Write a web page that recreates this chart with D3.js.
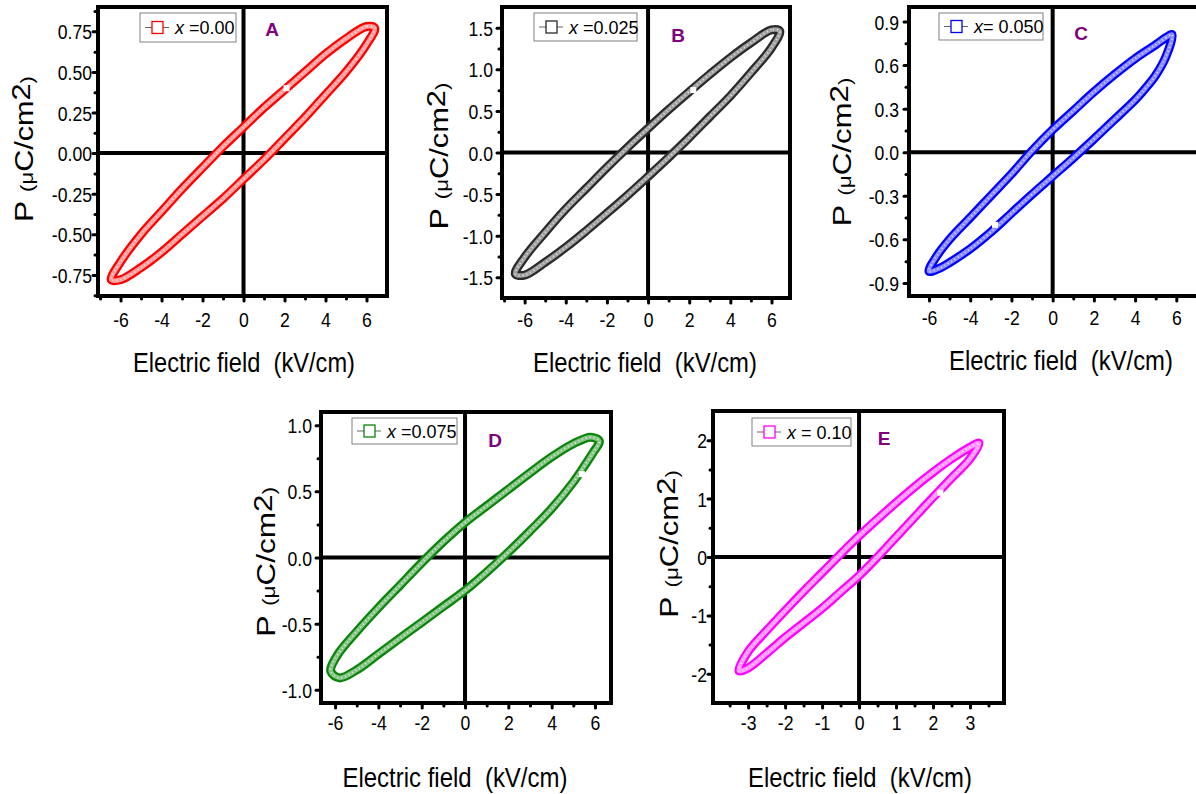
<!DOCTYPE html>
<html><head><meta charset="utf-8">
<script src="https://cdn.jsdelivr.net/npm/d3@7"></script>
<style>body{margin:0;background:#fff} svg{display:block;font-family:"Liberation Sans",Arial,sans-serif}</style>
</head><body>
<svg id="chart" width="1196" height="794"></svg>
<script>
// ---------------- DATA ----------------
// Upper branch: from +Emax tip to -Emax tip ; lower branch: from -Emax tip to +Emax tip
const E_A_up = [6.4, 6, 5, 4, 3, 2, 1, 0, -1, -2, -3, -4, -5, -6, -6.45];
const P_A_up = [0.77, 0.78, 0.705, 0.61, 0.50, 0.39, 0.28, 0.16, 0.04, -0.09, -0.22, -0.36, -0.50, -0.67, -0.78];
const E_A_lo = [-6.45, -6, -5, -4, -3, -2, -1, 0, 1, 2, 3, 4, 5, 6, 6.4];
const P_A_lo = [-0.78, -0.78, -0.705, -0.61, -0.50, -0.39, -0.28, -0.16, -0.04, 0.09, 0.22, 0.36, 0.50, 0.67, 0.77];

const E_B_up = [6.4, 6, 5, 4, 3, 2, 1, 0, -1, -2, -3, -4, -5, -6, -6.45];
const P_B_up = [1.46, 1.475, 1.32, 1.14, 0.94, 0.73, 0.515, 0.29, 0.06, -0.18, -0.43, -0.68, -0.96, -1.26, -1.46];
const E_B_lo = [-6.45, -6, -5, -4, -3, -2, -1, 0, 1, 2, 3, 4, 5, 6, 6.4];
const P_B_lo = [-1.46, -1.475, -1.32, -1.14, -0.94, -0.73, -0.515, -0.29, -0.06, 0.18, 0.43, 0.68, 0.96, 1.26, 1.46];

const E_C_up = [5.8, 5.5, 5, 4, 3, 2, 1, 0, -1, -2, -3, -4, -5, -5.6, -6];
const P_C_up = [0.81, 0.79, 0.74, 0.645, 0.535, 0.415, 0.285, 0.155, 0.01, -0.15, -0.30, -0.45, -0.60, -0.71, -0.82];
const E_C_lo = [-6, -5.5, -5, -4, -3, -2, -1, 0, 1, 2, 3, 4, 4.5, 5, 5.5, 5.8];
const P_C_lo = [-0.82, -0.80, -0.76, -0.665, -0.55, -0.42, -0.29, -0.165, -0.04, 0.09, 0.225, 0.36, 0.44, 0.53, 0.66, 0.81];

const E_D_up = [6.2, 5.8, 5, 4, 3, 2, 1, 0, -1, -2, -3, -4, -5, -5.9, -6.2];
const P_D_up = [0.88, 0.91, 0.86, 0.76, 0.64, 0.515, 0.39, 0.265, 0.12, -0.04, -0.21, -0.38, -0.56, -0.74, -0.86];
const E_D_lo = [-6.2, -5.8, -5, -4, -3, -2, -1, 0, 1, 2, 3, 4, 5, 5.5, 5.9, 6.2];
const P_D_lo = [-0.86, -0.91, -0.85, -0.73, -0.61, -0.49, -0.37, -0.25, -0.11, 0.04, 0.20, 0.37, 0.57, 0.69, 0.79, 0.88];

const E_E_up = [3.25, 3, 2.5, 2, 1.5, 1, 0.5, 0, -0.5, -1, -1.5, -2, -2.5, -3, -3.25];
const P_E_up = [1.95, 1.88, 1.68, 1.45, 1.20, 0.93, 0.65, 0.36, 0.05, -0.27, -0.59, -0.92, -1.26, -1.62, -1.95];
const E_E_lo = [-3.25, -3, -2.5, -2, -1.5, -1, -0.5, 0, 0.5, 1, 1.5, 2, 2.5, 3, 3.25];
const P_E_lo = [-1.95, -1.90, -1.65, -1.38, -1.13, -0.88, -0.60, -0.32, 0.0, 0.34, 0.68, 1.02, 1.35, 1.68, 1.95];

// highlighted (white) single points
const E_mark = [2.1, 2.2, -2.8, 5.4, 2.2];
const P_mark = [0.40, 0.75, -0.50, 0.63, 1.10];

const panelIds = ["A", "B", "C", "D", "E"];
const legendValues = [" =0.00", " =0.025", "= 0.050", " =0.075", " = 0.10"];

const xTicks6 = [-6, -4, -2, 0, 2, 4, 6];
const xTicks3 = [-3, -2, -1, 0, 1, 2, 3];
const yTicksA = [-0.75, -0.5, -0.25, 0, 0.25, 0.5, 0.75];
const yTicksB = [-1.5, -1, -0.5, 0, 0.5, 1, 1.5];
const yTicksC = [-0.9, -0.6, -0.3, 0, 0.3, 0.6, 0.9];
const yTicksD = [-1, -0.5, 0, 0.5, 1];
const yTicksE = [-2, -1, 0, 1, 2];

const xTitle = "Electric field  (kV/cm)";

// ---------------- LAYOUT / STYLE ----------------
const layout = [
  {E_up:E_A_up,P_up:P_A_up,E_lo:E_A_lo,P_lo:P_A_lo, col:"#ff0000", light:"#ff9c9c",
   x0:98,x1:387,y0:7,y1:296, xDom:[-7.1,7.0], yDom:[-0.88,0.9], xT:xTicks6, yT:yTicksA, fy:".2f",
   leg:[140,13,96,29], lab:[272,36], xt:[244,372,222], yt:[33,149,146], xpad:11.5, ygap:6},
  {E_up:E_B_up,P_up:P_B_up,E_lo:E_B_lo,P_lo:P_B_lo, col:"#2a2a2a", light:"#a0a0a0",
   x0:502,x1:790,y0:7,y1:298, xDom:[-7.1,6.9], yDom:[-1.75,1.75], xT:xTicks6, yT:yTicksB, fy:".1f",
   leg:[534,13,103,28], lab:[678,42], xt:[645,372,224], yt:[448,156,147], xpad:9.5, ygap:9},
  {E_up:E_C_up,P_up:P_C_up,E_lo:E_C_lo,P_lo:P_C_lo, col:"#0000ff", light:"#8a8aff",
   x0:909,x1:1199,y0:7,y1:296, xDom:[-6.97,7.1], yDom:[-0.99,1.0], xT:xTicks6, yT:yTicksC, fy:".1f",
   leg:[939,13,104,27], lab:[1081,40], xt:[1061,370,224], yt:[851,152,149], xpad:9.5, ygap:10},
  {E_up:E_D_up,P_up:P_D_up,E_lo:E_D_lo,P_lo:P_D_lo, col:"#0a840a", light:"#86c486",
   x0:321,x1:611,y0:412,y1:703, xDom:[-6.65,6.74], yDom:[-1.1,1.1], xT:xTicks6, yT:yTicksD, fy:".1f",
   leg:[352,418,105,26], lab:[495,447], xt:[455,787,225], yt:[275,562,150], xpad:7.5, ygap:9},
  {E_up:E_E_up,P_up:P_E_up,E_lo:E_E_lo,P_lo:P_E_lo, col:"#ff00ff", light:"#ff96ff",
   x0:713,x1:1004,y0:411,y1:703, xDom:[-3.95,3.92], yDom:[-2.5,2.5], xT:xTicks3, yT:yTicksE, fy:"d",
   leg:[752,418,99,28], lab:[884,445], xt:[860,787,224], yt:[678,544,148], xpad:7.5, ygap:6}
];

const svg = d3.select("#chart");
const SX = 0.84, TF = 21;

layout.forEach((L, i) => {
  const g = svg.append("g");
  const x = d3.scaleLinear().domain(L.xDom).range([L.x0, L.x1]);
  const y = d3.scaleLinear().domain(L.yDom).range([L.y1, L.y0]);

  const xStep = L.xT[1] - L.xT[0], yStep = L.yT[1] - L.yT[0];
  const xMinor = d3.range(-20, 21).map(k => L.xT[0] + (k + 0.5) * xStep).filter(v => v > L.xDom[0] && v < L.xDom[1]);
  const yMinor = d3.range(-20, 21).map(k => L.yT[0] + (k + 0.5) * yStep).filter(v => v > L.yDom[0] && v < L.yDom[1]);

  const styleTicks = sel => {
    sel.select(".domain").remove();
    sel.selectAll("line").attr("stroke", "#000").attr("stroke-width", 3).attr("stroke-linecap", "round");
  };
  g.append("g").attr("transform", `translate(0,${L.y1})`)
    .call(d3.axisBottom(x).tickValues(xMinor).tickSize(3).tickFormat(""))
    .call(styleTicks);
  g.append("g").attr("transform", `translate(${L.x0},0)`)
    .call(d3.axisLeft(y).tickValues(yMinor).tickSize(3).tickFormat(""))
    .call(styleTicks);
  const fmtY = d3.format(L.fy);
  const xa = g.append("g").attr("transform", `translate(0,${L.y1})`)
    .call(d3.axisBottom(x).tickValues(L.xT).tickSize(5).tickPadding(L.xpad).tickFormat(d3.format("d")))
    .call(styleTicks);
  xa.selectAll("text").attr("font-size", TF).attr("fill", "#000")
    .attr("font-family", "Liberation Sans, Arial, sans-serif")
    .text(d => d < 0 ? "-" + Math.abs(d) : d)
    .attr("transform", `scale(${SX},1)`);
  const ya = g.append("g").attr("transform", `translate(${L.x0},0)`)
    .call(d3.axisLeft(y).tickValues(L.yT).tickSize(5).tickFormat(d => fmtY(d).replace("−", "-")))
    .call(styleTicks);
  ya.selectAll("text").attr("font-size", TF).attr("fill", "#000")
    .attr("font-family", "Liberation Sans, Arial, sans-serif")
    .attr("x", -L.ygap / SX).attr("dy", "0.36em")
    .attr("transform", `scale(${SX},1)`);

  // zero lines
  g.append("line").attr("x1", L.x0).attr("x2", L.x1).attr("y1", y(0)).attr("y2", y(0))
    .attr("stroke", "#000").attr("stroke-width", 4);
  g.append("line").attr("x1", x(0)).attr("x2", x(0)).attr("y1", L.y0).attr("y2", L.y1)
    .attr("stroke", "#000").attr("stroke-width", 4);

  // loop
  const up = L.E_up.map((e, k) => [e, L.P_up[k]]);
  const lo = L.E_lo.map((e, k) => [e, L.P_lo[k]]);
  const pts = up.concat(lo.slice(1, -1));
  const line = d3.line().x(d => x(d[0])).y(d => y(d[1])).curve(d3.curveCatmullRomClosed.alpha(0.5));
  g.append("path").attr("d", line(pts)).attr("fill", "none").attr("stroke", L.col)
    .attr("stroke-width", 9).attr("stroke-linejoin", "round");
  g.append("path").attr("d", line(pts)).attr("fill", "none").attr("stroke", L.light)
    .attr("stroke-width", 4.5).attr("stroke-linejoin", "round");
  g.append("path").attr("d", line(pts)).attr("fill", "none").attr("stroke", "#fff")
    .attr("stroke-width", 2).attr("stroke-dasharray", "1 3").attr("opacity", 0.7);
  g.append("rect").attr("x", x(E_mark[i]) - 3).attr("y", y(P_mark[i]) - 3)
    .attr("width", 6).attr("height", 6).attr("fill", "#fff");

  // frame
  g.append("rect").attr("x", L.x0).attr("y", L.y0).attr("width", L.x1 - L.x0).attr("height", L.y1 - L.y0)
    .attr("fill", "none").attr("stroke", "#000").attr("stroke-width", 4);

  // legend
  const [lx, ly, lw, lh] = L.leg;
  const lg = g.append("g");
  lg.append("rect").attr("x", lx).attr("y", ly).attr("width", lw).attr("height", lh)
    .attr("fill", "#fff").attr("stroke", "#808080").attr("stroke-width", 1);
  const cy = ly + lh / 2;
  lg.append("line").attr("x1", lx + 5).attr("x2", lx + 29).attr("y1", cy).attr("y2", cy)
    .attr("stroke", "#666").attr("stroke-width", 1);
  lg.append("rect").attr("x", lx + 12).attr("y", cy - 6).attr("width", 11).attr("height", 12)
    .attr("fill", "#fff").attr("stroke", L.col).attr("stroke-width", 1.3);
  const lt = lg.append("text").attr("x", lx + 35).attr("y", cy + 6.5).attr("font-size", 18).attr("fill", "#000");
  lt.append("tspan").attr("font-style", "italic").text("x");
  lt.append("tspan").text(legendValues[i].replace(/ /g, "\u00a0"));

  // panel letter
  g.append("text").attr("x", L.lab[0]).attr("y", L.lab[1]).attr("text-anchor", "middle")
    .attr("font-size", 19).attr("font-weight", "bold").attr("fill", "#800080").text(panelIds[i]);

  // x title
  const xtT = g.append("text").attr("font-size", 28).attr("fill", "#000").attr("x", 0).attr("y", 0)
    .text(xTitle.replace(/ /g, "\u00a0"));
  const xw = xtT.node().getComputedTextLength();
  xtT.attr("transform", `translate(${L.xt[0] - L.xt[2] / 2},${L.xt[1]}) scale(${L.xt[2] / xw},1)`);

  // y title
  const ytT = g.append("text").attr("fill", "#000").attr("x", 0).attr("y", 0);
  ytT.append("tspan").attr("font-size", 26).text("P\u00a0");
  ytT.append("tspan").attr("font-size", 18).text("(\u03bc");
  ytT.append("tspan").attr("font-size", 25).text("C/cm");
  ytT.append("tspan").attr("font-size", 25).attr("dy", -3).text("2");
  ytT.append("tspan").attr("font-size", 18).attr("dy", 3).text(")");
  const yw = ytT.node().getComputedTextLength();
  ytT.attr("transform", `translate(${L.yt[0]},${L.yt[1] + L.yt[2] / 2}) rotate(-90) scale(${L.yt[2] / yw},1)`);
});
</script>
</body></html>
